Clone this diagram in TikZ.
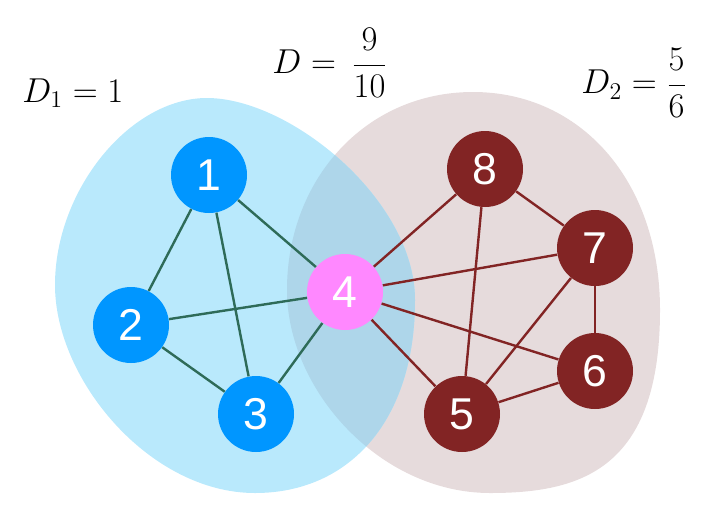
\documentclass[tikz,border=0pt]{standalone}
\usepackage{fontspec}
\newfontfamily\numfont{Liberation Sans}
\definecolor{blobblue}{RGB}{185,233,252}
\definecolor{blobbrown}{RGB}{230,219,220}
\definecolor{bloboverlap}{RGB}{174,214,234}
\definecolor{nodeblue}{RGB}{0,150,255}
\definecolor{nodepink}{RGB}{255,136,255}
\definecolor{nodered}{RGB}{130,36,36}
\definecolor{edgegreen}{RGB}{46,107,88}
\tikzset{
  vtx/.style={circle, minimum size=38pt, inner sep=0pt, text=white,
    font=\numfont\fontsize{22.3}{24}\selectfont},
  bluev/.style={vtx, fill=nodeblue},
  pinkv/.style={vtx, fill=nodepink},
  redv/.style={vtx, fill=nodered},
  gedge/.style={draw=edgegreen, line width=1.2pt},
  redge/.style={draw=nodered, line width=1.2pt},
  lbl/.style={inner sep=0pt, font=\fontsize{17}{20}\selectfont}
}
\begin{document}
\begin{tikzpicture}[x=0.5pt,y=-0.5pt]
\useasboundingbox (0,0) rectangle (706,515);
\def\bluepath{(207,98) .. controls (290,98) and (415,200) .. (415,300)
  .. controls (415,420) and (350,493) .. (255,493)
  .. controls (150,493) and (55,380) .. (55,285)
  .. controls (55,190) and (130,98) .. (207,98) -- cycle}
\def\brownpath{(473,92) .. controls (580,92) and (660,180) .. (660,310)
  .. controls (660,470) and (580,493) .. (490,493)
  .. controls (380,493) and (287,390) .. (287,290)
  .. controls (287,180) and (365,92) .. (473,92) -- cycle}
\fill[blobbrown] \brownpath;
\fill[blobblue] \bluepath;
\begin{scope}
\clip \brownpath;
\fill[bloboverlap] \bluepath;
\end{scope}
% vertices
\node[bluev] (n1) at (209,175) {1};
\node[bluev] (n2) at (131,325) {2};
\node[bluev] (n3) at (256,414) {3};
\node[pinkv] (n4) at (345,292) {4};
\node[redv] (n5) at (462,414) {5};
\node[redv] (n6) at (595,371) {6};
\node[redv] (n7) at (595,248) {7};
\node[redv] (n8) at (485,169) {8};
% edges
\path[gedge] (n1) -- (n2);
\path[gedge] (n1) -- (n3);
\path[gedge] (n1) -- (n4);
\path[gedge] (n2) -- (n4);
\path[gedge] (n2) -- (n3);
\path[gedge] (n3) -- (n4);
\path[redge] (n4) -- (n8);
\path[redge] (n4) -- (n7);
\path[redge] (n4) -- (n6);
\path[redge] (n4) -- (n5);
\path[redge] (n8) -- (n7);
\path[redge] (n8) -- (n5);
\path[redge] (n7) -- (n6);
\path[redge] (n7) -- (n5);
\path[redge] (n6) -- (n5);
% labels
\node[lbl, anchor=base west] (l1) at (22,102) {$D_1=1$};
\node[lbl, anchor=west] (l0) at (272,63) {$\displaystyle D=\,\frac{9}{10}$};
\node[lbl, anchor=west] (l2) at (581,83) {$\displaystyle D_2=\frac{5}{6}$};
\end{tikzpicture}
\end{document}
